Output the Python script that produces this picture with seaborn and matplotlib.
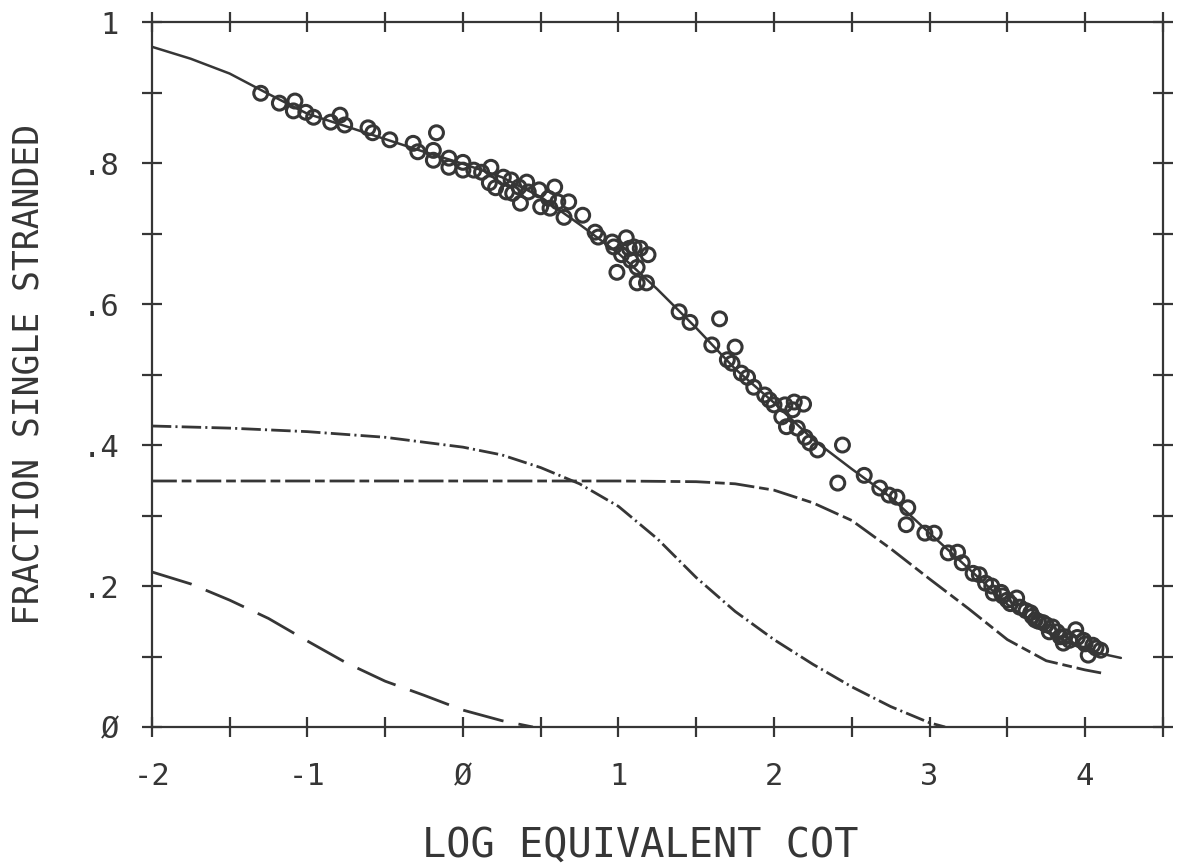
import numpy as np
import pandas as pd
import matplotlib
matplotlib.use("Agg")
import matplotlib.pyplot as plt
import seaborn as sns

# curves (log equivalent Cot vs fraction single stranded)
total_x = [-2, -1.75, -1.5, -1.25, -1, -0.75, -0.5, -0.25, 0, 0.25, 0.5, 0.75, 1.0, 1.25,
           1.5, 1.75, 2.0, 2.25, 2.5, 2.75, 3.0, 3.25, 3.5, 3.75, 4.0, 4.23]
total_y = [0.965, 0.948, 0.927, 0.898, 0.870, 0.852, 0.834, 0.816, 0.799, 0.780, 0.752, 0.713,
           0.672, 0.621, 0.566, 0.508, 0.460, 0.408, 0.366, 0.326, 0.275, 0.225, 0.174, 0.135,
           0.109, 0.098]

fast_x = [-2, -1.5, -1, -0.5, 0, 0.25, 0.5, 0.75, 1.0, 1.25, 1.5, 1.75, 2.0, 2.25, 2.5,
          2.75, 3.0, 3.1]
fast_y = [0.427, 0.424, 0.419, 0.411, 0.397, 0.386, 0.368, 0.345, 0.313, 0.267, 0.212, 0.164,
          0.124, 0.089, 0.057, 0.029, 0.006, 0.0]

slow_x = [-2, -1, 0, 0.5, 1.0, 1.5, 1.75, 2.0, 2.25, 2.5, 2.75, 3.0, 3.25, 3.5, 3.75, 4.0, 4.12]
slow_y = [0.349, 0.349, 0.349, 0.349, 0.349, 0.348, 0.345, 0.336, 0.318, 0.293, 0.253, 0.210,
          0.168, 0.124, 0.094, 0.081, 0.076]

snap_x = [-2, -1.75, -1.5, -1.25, -1, -0.75, -0.5, -0.25, 0, 0.25, 0.45]
snap_y = [0.220, 0.203, 0.180, 0.154, 0.122, 0.091, 0.065, 0.045, 0.024, 0.009, 0.0]

pt_x = [-1.30, -1.18, -1.08, -1.09, -1.01, -0.96, -0.85, -0.79, -0.76, -0.61, -0.58, -0.47,
        -0.32, -0.29, -0.17, -0.19, -0.19, -0.09, -0.09, 0.00, 0.00, 0.07, 0.12, 0.18, 0.17,
        0.21, 0.26, 0.28, 0.31, 0.32, 0.36, 0.37, 0.41, 0.42, 0.49, 0.50, 0.55, 0.56, 0.59,
        0.61, 0.68, 0.65, 0.77, 0.85, 0.87, 0.96, 0.97, 1.05, 1.07, 1.10, 1.14, 1.02, 1.08,
        1.19, 1.12, 0.99, 1.12, 1.18, 1.39,
        1.46, 1.65, 1.60, 1.75, 1.70, 1.73, 1.79, 1.83, 1.87, 1.94, 1.97, 2.00, 2.07, 2.13,
        2.19, 2.12, 2.05, 2.08, 2.15, 2.20, 2.23, 2.28, 2.44, 2.58,
        2.41, 2.68, 2.74, 2.79, 2.86, 2.85, 2.97, 3.03, 3.12, 3.18, 3.21, 3.28, 3.32, 3.36,
        3.41, 3.46, 3.50, 3.56, 3.58, 3.65, 3.68, 3.73, 3.79, 3.84, 3.94, 3.90, 3.99, 4.05,
        4.10, 4.02, 3.86,
        3.40, 3.47, 3.52, 3.62, 3.66, 3.70, 3.75, 3.77, 3.82, 3.87, 3.95, 4.00, 4.07]
pt_y = [0.899, 0.885, 0.888, 0.874, 0.872, 0.865, 0.858, 0.868, 0.854, 0.850, 0.843, 0.833,
        0.828, 0.816, 0.843, 0.818, 0.804, 0.807, 0.794, 0.801, 0.790, 0.790, 0.787, 0.794,
        0.772, 0.765, 0.780, 0.759, 0.776, 0.757, 0.766, 0.743, 0.773, 0.759, 0.762, 0.738,
        0.750, 0.736, 0.766, 0.745, 0.745, 0.723, 0.726, 0.702, 0.695, 0.688, 0.681, 0.694,
        0.679, 0.681, 0.679, 0.670, 0.662, 0.670, 0.652, 0.645, 0.630, 0.630, 0.589,
        0.574, 0.579, 0.542, 0.539, 0.521, 0.516, 0.502, 0.496, 0.482, 0.471, 0.464, 0.457,
        0.457, 0.461, 0.458, 0.450, 0.440, 0.426, 0.424, 0.411, 0.403, 0.393, 0.400, 0.357,
        0.346, 0.339, 0.329, 0.326, 0.311, 0.287, 0.275, 0.275, 0.247, 0.248, 0.233, 0.218,
        0.216, 0.204, 0.190, 0.191, 0.180, 0.183, 0.170, 0.162, 0.152, 0.148, 0.142, 0.128,
        0.138, 0.123, 0.123, 0.116, 0.109, 0.102, 0.119,
        0.200, 0.186, 0.175, 0.165, 0.157, 0.150, 0.145, 0.135, 0.135, 0.128, 0.127, 0.118,
        0.112]

x_ticks = np.arange(-2, 4.51, 0.5)
x_labels = ["-2", "", "-1", "", "Ø", "", "1", "", "2", "", "3", "", "4", ""]
y_ticks = np.arange(0, 1.01, 0.1)
y_labels = ["Ø", "", ".2", "", ".4", "", ".6", "", ".8", "", "1"]

ink = "#363636"

sns.set_style("white")
plt.rcParams["font.family"] = ["DejaVu Sans Mono", "DejaVu Sans"]
plt.rcParams["lines.scale_dashes"] = False

fig = plt.figure(figsize=(11.77, 8.66), dpi=100)
ax = fig.add_axes([0.129, 0.1605, 0.859, 0.814])

sns.lineplot(x=total_x, y=total_y, ax=ax, color=ink, lw=1.8, sort=False, estimator=None)
sns.lineplot(x=fast_x, y=fast_y, ax=ax, color=ink, lw=2.0, sort=False, estimator=None,
             linestyle=(0, (14, 3, 1.5, 3)))
sns.lineplot(x=slow_x, y=slow_y, ax=ax, color=ink, lw=2.0, sort=False, estimator=None,
             linestyle=(0, (18, 3.5, 7, 3.5)))
sns.lineplot(x=snap_x, y=snap_y, ax=ax, color=ink, lw=2.0, sort=False, estimator=None,
             linestyle=(0, (30, 11)))

pts = pd.DataFrame({"x": pt_x, "y": pt_y})
sns.scatterplot(data=pts, x="x", y="y", ax=ax, s=100, marker="o", facecolors="none",
                edgecolor=ink, linewidth=2.2, zorder=3)

ax.set_xlim(-2, 4.5)
ax.set_ylim(0, 1)
ax.set_xticks(x_ticks)
ax.set_xticklabels(x_labels)
ax.set_yticks(y_ticks)
ax.set_yticklabels(y_labels)
ax.tick_params(axis="both", direction="inout", length=15, width=1.6, color=ink,
               labelcolor=ink, labelsize=22, top=True, right=True, bottom=True, left=True)
ax.tick_params(axis="x", pad=18)
ax.tick_params(axis="y", pad=16)
for sp in ax.spines.values():
    sp.set_color(ink)
    sp.set_linewidth(1.6)

ax.set_xlabel("LOG EQUIVALENT COT", fontsize=29, color=ink)
ax.set_ylabel("FRACTION SINGLE STRANDED", fontsize=25, color=ink)
ax.xaxis.set_label_coords(0.483, -0.14)
ax.yaxis.set_label_coords(-0.105, 0.5)

fig.savefig("out.png", dpi=100)
